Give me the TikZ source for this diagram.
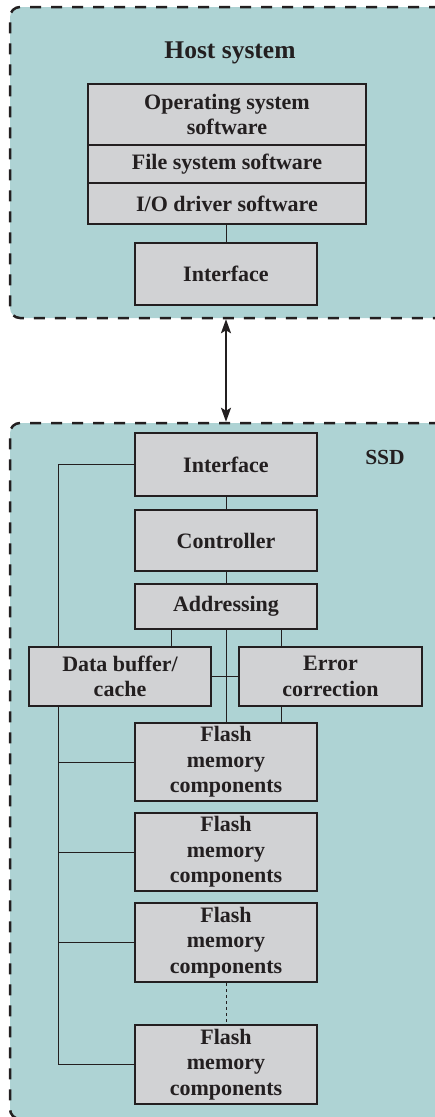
\documentclass[tikz,border=0pt]{standalone}
\usepackage{fontspec}
\setmainfont{Liberation Serif}
\usetikzlibrary{arrows.meta,calc}
\definecolor{tealbg}{RGB}{174,211,212}
\definecolor{gbox}{RGB}{209,210,212}
\definecolor{ink}{RGB}{35,31,32}
\pgfdeclarelayer{bg}
\pgfdeclarelayer{wires}
\pgfsetlayers{bg,wires,main}
\begin{document}
\begin{tikzpicture}[x=1pt,y=-1pt,
  blk/.style={draw=ink,fill=gbox,line width=2pt,inner sep=0pt,align=center,
    font=\fontsize{22}{25.5}\selectfont\bfseries,text=ink},
  region/.style={draw=ink,fill=tealbg,line width=2.5pt,dash pattern=on 11pt off 10pt,
    rounded corners=10pt,inner sep=0pt},
  wire/.style={draw=ink,line width=1pt},
  lbl/.style={text=ink,anchor=base,inner sep=0pt}]
\useasboundingbox (0,0) rectangle (435,1117);
\clip (0,0) rectangle (435,1117);

\begin{pgfonlayer}{bg}
\node[region,minimum width=440pt,minimum height=311pt] (host) at (230,162.5) {};
\node[region,minimum width=440pt,minimum height=696pt] (ssd) at (230,771) {};
\end{pgfonlayer}

\node[lbl,font=\fontsize{25.5}{30}\selectfont\bfseries] (title) at (230,58) {Host system};
\node[lbl,font=\fontsize{21.5}{25}\selectfont\bfseries] (ssdlbl) at (385,464) {SSD};

\node[blk,minimum width=278pt,minimum height=61pt] (os) at (227,114.5) {Operating system\\software};
\node[blk,minimum width=278pt,minimum height=38pt] (fs) at (227,164) {File system software};
\node[blk,minimum width=278pt,minimum height=41pt] (io) at (227,203.5) {I/O driver software};
\node[blk,minimum width=182pt,minimum height=62pt] (hif) at (226,274) {Interface};

\node[blk,minimum width=182pt,minimum height=63pt] (sif) at (226,464.5) {Interface};
\node[blk,minimum width=182pt,minimum height=61pt] (ctl) at (226,540.5) {Controller};
\node[blk,minimum width=182pt,minimum height=45pt] (addr) at (226,606.5) {Addressing};
\node[blk,minimum width=182pt,minimum height=59pt] (db) at (120,676.5) {Data buffer/\\cache};
\node[blk,minimum width=183pt,minimum height=59pt] (ec) at (330.5,676.5) {Error\\correction};
\node[blk,minimum width=182pt,minimum height=78pt] (f1) at (226,762) {Flash\\memory\\components};
\node[blk,minimum width=182pt,minimum height=78pt] (f2) at (226,852) {Flash\\memory\\components};
\node[blk,minimum width=182pt,minimum height=79pt] (f3) at (226,942.5) {Flash\\memory\\components};
\node[blk,minimum width=182pt,minimum height=79pt] (f4) at (226,1064.5) {Flash\\memory\\components};

\coordinate (bus) at (58,0);
\coordinate (aL) at (171,0);
\coordinate (aR) at (281,0);

\begin{pgfonlayer}{wires}
\draw[wire] (io.south -| hif.north) -- (hif.north);
\draw[draw=ink,line width=2pt,{Stealth[length=14pt,width=10pt,inset=3pt]}-{Stealth[length=14pt,width=10pt,inset=3pt]}]
  (hif.south |- host.south) -- (hif.south |- ssd.north);
\draw[wire] (sif.south) -- (ctl.north);
\draw[wire] (ctl.south) -- (addr.north);
\draw[wire] (addr.south) -- (f1.north);
\draw[wire] (addr.south -| aL) -- (db.north -| aL);
\draw[wire] (addr.south -| aR) -- (ec.north -| aR);
\draw[wire] (ec.south -| aR) -- (f1.north -| aR);
\draw[wire] (db.east) -- (ec.west);
\draw[wire] (sif.west) -- (sif.west -| bus) -- (f4.west -| bus) -- (f4.west);
\draw[wire] (f1.west -| bus) -- (f1.west);
\draw[wire] (f2.west -| bus) -- (f2.west);
\draw[wire] (f3.west -| bus) -- (f3.west);
\draw[wire,dash pattern=on 3pt off 3pt] (f3.south) -- (f4.north);
\end{pgfonlayer}
\end{tikzpicture}
\end{document}
